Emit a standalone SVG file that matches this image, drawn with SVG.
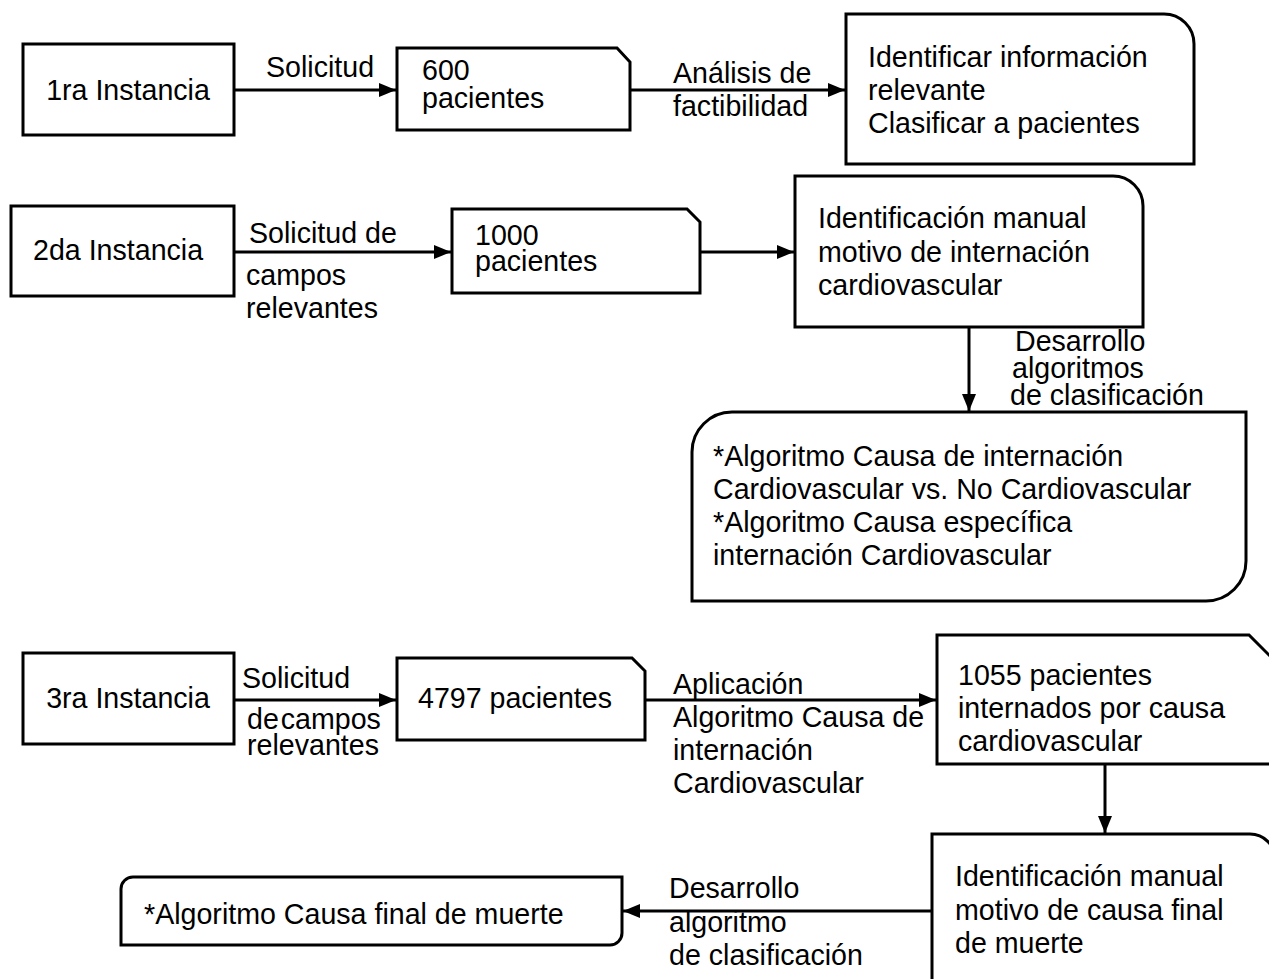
<svg xmlns="http://www.w3.org/2000/svg" width="1269" height="979" viewBox="0 0 1269 979">
<style>
.box{fill:#fff;stroke:#000;stroke-width:3}
.t{font-family:"Liberation Sans",Arial,sans-serif;font-size:28.6px;fill:#000}
.c{stroke:#000;stroke-width:3;fill:none}
</style>
<defs>
<marker id="ah" markerUnits="userSpaceOnUse" markerWidth="18" markerHeight="16" refX="17" refY="8" orient="auto">
<path d="M0,1 L17,8 L0,15 Z" fill="#000"/>
</marker>
</defs>
<rect width="1269" height="979" fill="#fff"/>
<g id="connectors">
<line class="c" x1="234" y1="90" x2="396" y2="90" marker-end="url(#ah)"/>
<line class="c" x1="630" y1="90" x2="845" y2="90" marker-end="url(#ah)"/>
<line class="c" x1="234" y1="252" x2="451" y2="252" marker-end="url(#ah)"/>
<line class="c" x1="700" y1="252" x2="794" y2="252" marker-end="url(#ah)"/>
<line class="c" x1="969" y1="327" x2="969" y2="411" marker-end="url(#ah)"/>
<line class="c" x1="234" y1="700" x2="396" y2="700" marker-end="url(#ah)"/>
<line class="c" x1="645" y1="700" x2="936" y2="700" marker-end="url(#ah)"/>
<line class="c" x1="1105" y1="764" x2="1105" y2="833" marker-end="url(#ah)"/>
<line class="c" x1="932" y1="911" x2="623" y2="911" marker-end="url(#ah)"/>
<text class="t" x="266" y="77">Solicitud</text>
<text class="t" x="673" y="83">Análisis de</text>
<text class="t" x="673" y="116">factibilidad</text>
<text class="t" x="249" y="243">Solicitud de</text>
<text class="t" x="246" y="285">campos</text>
<text class="t" x="246" y="318">relevantes</text>
<text class="t" x="1015" y="351">Desarrollo</text>
<text class="t" x="1012" y="378">algoritmos</text>
<text class="t" x="1010" y="405">de clasificación</text>
<text class="t" x="242" y="688">Solicitud</text>
<text class="t" x="247" y="729" word-spacing="-6">de campos</text>
<text class="t" x="247" y="755">relevantes</text>
<text class="t" x="673" y="694">Aplicación</text>
<text class="t" x="673" y="727">Algoritmo Causa de</text>
<text class="t" x="673" y="760">internación</text>
<text class="t" x="673" y="793">Cardiovascular</text>
<text class="t" x="669" y="898">Desarrollo</text>
<text class="t" x="669" y="932">algoritmo</text>
<text class="t" x="669" y="965">de clasificación</text>
</g>
<g id="n1ra">
<rect class="box" x="23" y="44" width="211" height="91"/>
<text class="t" x="128" y="100" text-anchor="middle">1ra Instancia</text>
</g>
<g id="n600">
<path class="box" d="M397,48 H617 L630,62 V130 H397 Z"/>
<text class="t" x="422" y="80">600</text>
<text class="t" x="422" y="108">pacientes</text>
</g>
<g id="nIdent1">
<path class="box" d="M846,14 H1164 A30,30 0 0 1 1194,44 V164 H846 Z"/>
<text class="t" x="868" y="67">Identificar información</text>
<text class="t" x="868" y="100">relevante</text>
<text class="t" x="868" y="133">Clasificar a pacientes</text>
</g>
<g id="n2da">
<rect class="box" x="11" y="206" width="223" height="90"/>
<text class="t" x="33" y="260">2da Instancia</text>
</g>
<g id="n1000">
<path class="box" d="M452,209 H687 L700,222 V293 H452 Z"/>
<text class="t" x="475" y="245">1000</text>
<text class="t" x="475" y="271">pacientes</text>
</g>
<g id="nIdent2">
<path class="box" d="M795,176 H1113 A30,30 0 0 1 1143,206 V327 H795 Z"/>
<text class="t" x="818" y="228">Identificación manual</text>
<text class="t" x="818" y="262">motivo de internación</text>
<text class="t" x="818" y="295">cardiovascular</text>
</g>
<g id="nAlg">
<path class="box" d="M732,412 H1246 V561 A40,40 0 0 1 1206,601 H692 V452 A40,40 0 0 1 732,412 Z"/>
<text class="t" x="713" y="466">*Algoritmo Causa de internación</text>
<text class="t" x="713" y="499">Cardiovascular vs. No Cardiovascular</text>
<text class="t" x="713" y="532">*Algoritmo Causa específica</text>
<text class="t" x="713" y="565">internación Cardiovascular</text>
</g>
<g id="n3ra">
<rect class="box" x="23" y="653" width="211" height="91"/>
<text class="t" x="128" y="708" text-anchor="middle">3ra Instancia</text>
</g>
<g id="n4797">
<path class="box" d="M397,658 H632 L645,671 V740 H397 Z"/>
<text class="t" x="418" y="708">4797 pacientes</text>
</g>
<g id="n1055">
<path class="box" d="M937,635 H1249 L1272,658 V764 H937 Z"/>
<text class="t" x="958" y="685">1055 pacientes</text>
<text class="t" x="958" y="718">internados por causa</text>
<text class="t" x="958" y="751">cardiovascular</text>
</g>
<g id="nIdent3">
<path class="box" d="M932,834 H1250 A25,25 0 0 1 1275,859 V985 H932 Z"/>
<text class="t" x="955" y="886">Identificación manual</text>
<text class="t" x="955" y="920">motivo de causa final</text>
<text class="t" x="955" y="953">de muerte</text>
</g>
<g id="nFinal">
<path class="box" d="M133,877 H622 V933 A12,12 0 0 1 610,945 H121 V889 A12,12 0 0 1 133,877 Z"/>
<text class="t" x="144" y="924">*Algoritmo Causa final de muerte</text>
</g>
</svg>
